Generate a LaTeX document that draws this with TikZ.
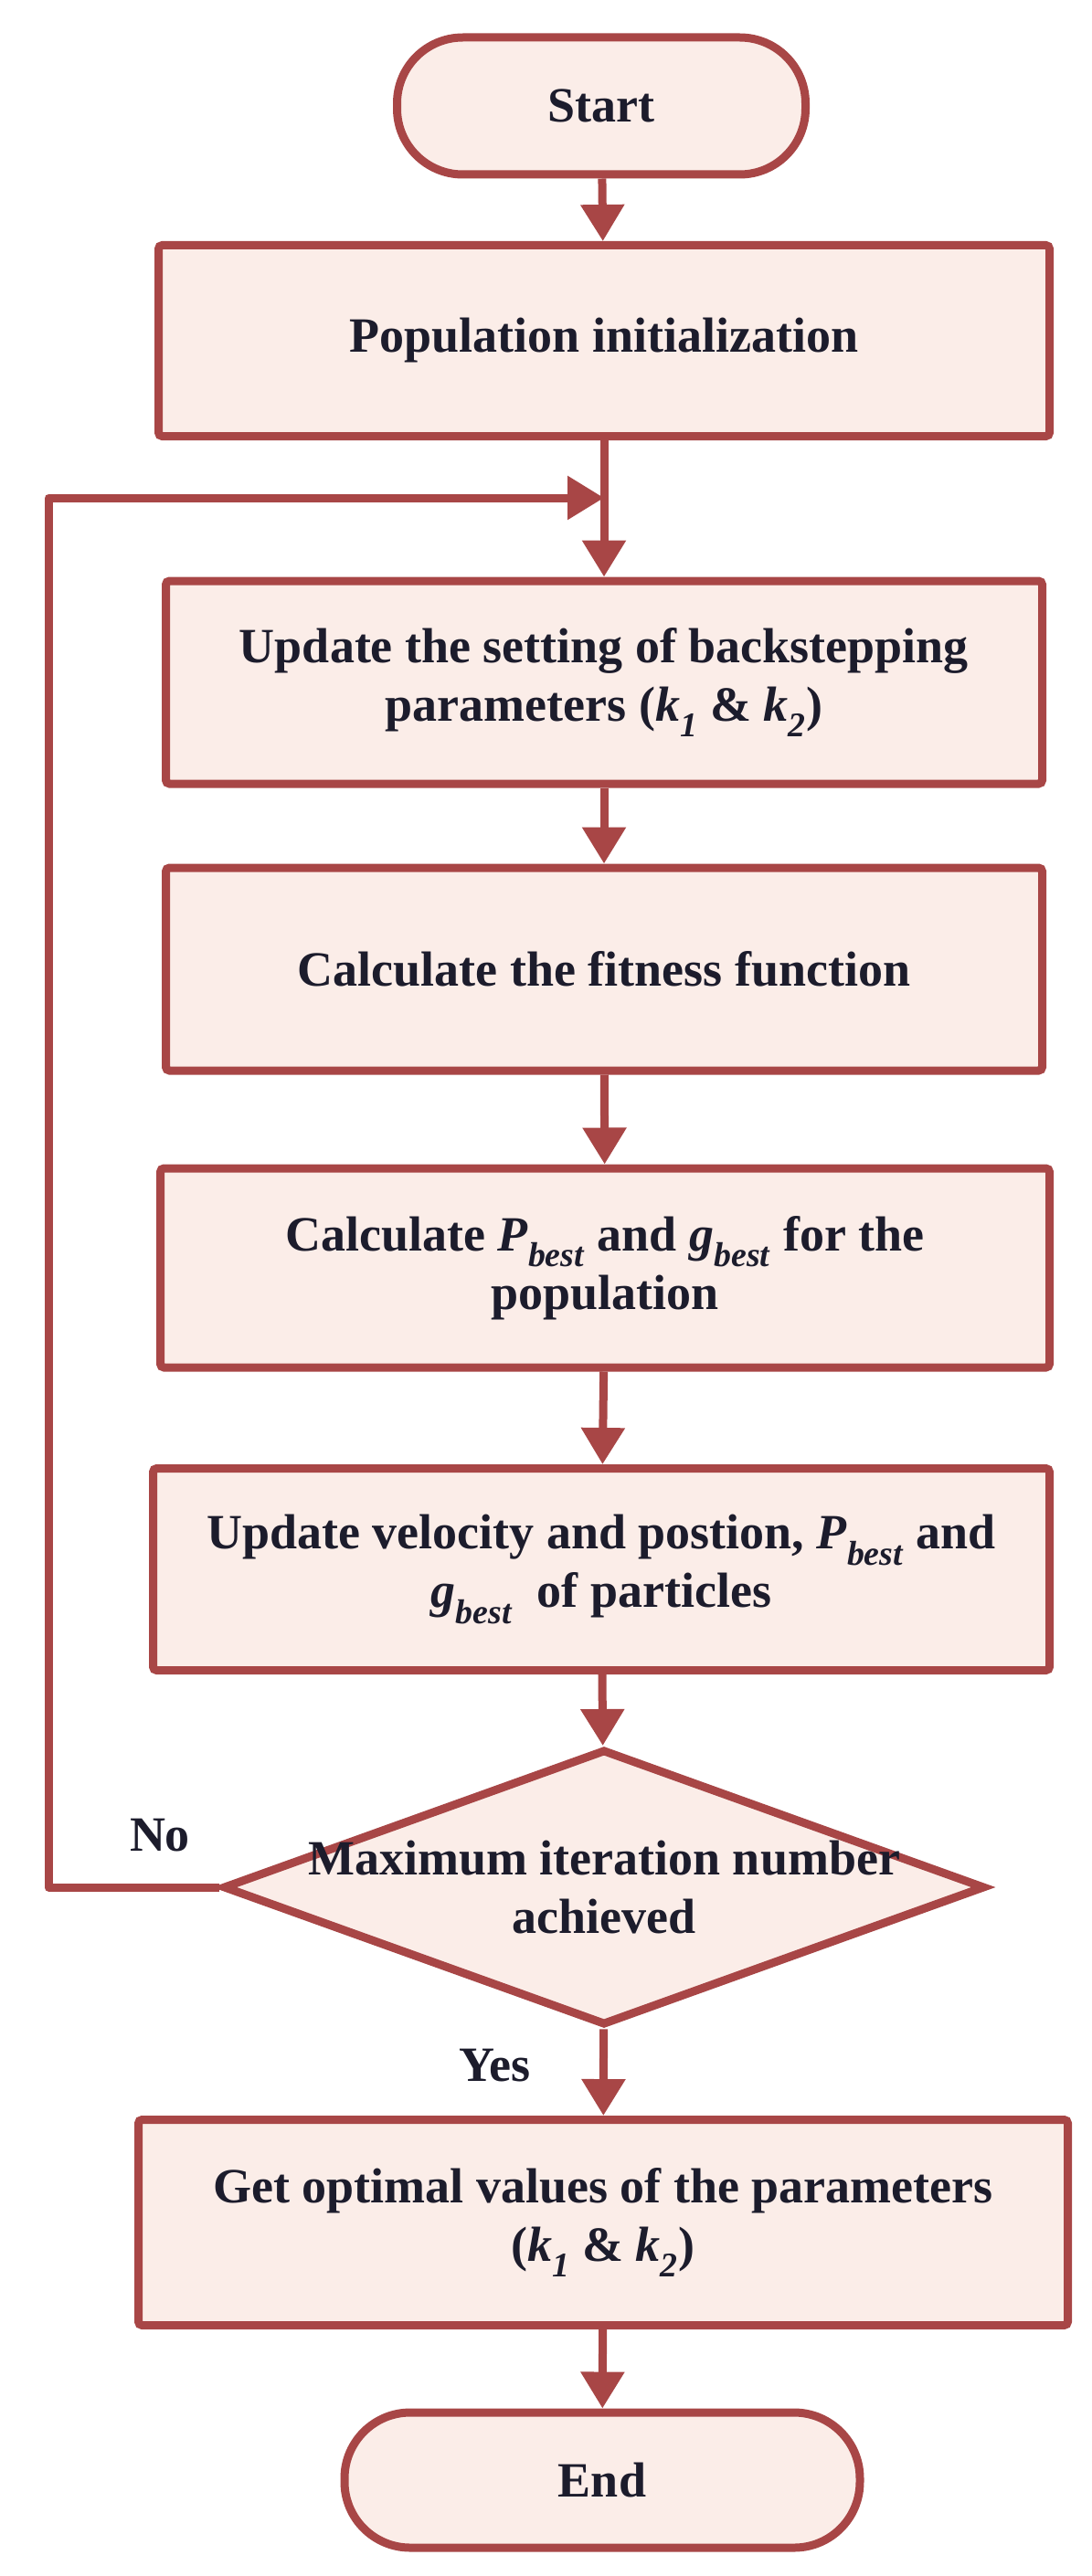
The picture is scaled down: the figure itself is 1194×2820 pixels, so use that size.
\documentclass[tikz,border=0pt]{standalone}
\usepackage{fontspec}
\setmainfont{Liberation Serif}
\usetikzlibrary{shapes.geometric,arrows.meta}
\definecolor{ln}{HTML}{A84646}
\definecolor{fl}{HTML}{FBEDE8}
\definecolor{tx}{HTML}{1C1C2C}
\begin{document}
\begin{tikzpicture}[x=1pt,y=-1pt,
 base/.style={draw=ln,fill=fl,line width=9pt,text=tx,font=\fontsize{54}{64}\selectfont\bfseries,align=center,inner sep=0pt},
 box/.style={base,rectangle,rounded corners=4pt},
 term/.style={base,rectangle,rounded corners=72pt},
 arr/.style={draw=ln,line width=9pt,-{Triangle[width=46pt,length=40pt]}},
 lbl/.style={text=tx,font=\fontsize{54}{64}\selectfont\bfseries}]
\useasboundingbox (0,0) rectangle (1194,2820);
\newcommand{\sbs}[2]{\textit{#1}\textsubscript{\textit{#2}}}
\node[term,minimum width=447,minimum height=150] (s) at (658,116) {Start};
\node[box,minimum width=975,minimum height=209] (p) at (661,373) {Population initialization};
\node[box,minimum width=959,minimum height=222] (u) at (661,747) {Update the setting of backstepping\\parameters (\sbs{k}{1} \& \sbs{k}{2})};
\node[box,minimum width=959,minimum height=222] (f) at (661,1061) {Calculate the fitness function};
\node[box,minimum width=973,minimum height=218] (c) at (662,1388) {Calculate \sbs{P}{best} and \sbs{g}{best} for the\\population};
\node[box,minimum width=981,minimum height=221] (v) at (658,1718) {Update velocity and postion, \sbs{P}{best} and\\\sbs{g}{best}~ of particles};
\node[base,diamond,minimum width=834,minimum height=302,aspect=2.76] (d) at (661,2066) {};
\node[lbl,align=center] (dt) at (661,2066) {Maximum iteration number\\achieved};
\node[box,minimum width=1017,minimum height=225] (g) at (660,2433) {Get optimal values of the parameters\\(\sbs{k}{1} \& \sbs{k}{2})};
\node[term,minimum width=564,minimum height=148] (e) at (659,2715) {End};
\node[lbl] (yes) at (541,2261) {Yes};
\node[lbl] (no) at (175,2009) {No};
\coordinate (j) at (661,545);
\coordinate (bl) at (53,2066);
\coordinate (tl) at (53,545);
\draw[arr] (s) -- (p);
\draw[arr] (p) -- (u);
\draw[arr] (u) -- (f);
\draw[arr] (f) -- (c);
\draw[arr] (c) -- (v);
\draw[arr] (v) -- (d);
\draw[arr] (d) -- (g);
\draw[arr] (g) -- (e);
\draw[arr,line join=round] (d.west) -- (bl) -- (tl) -- (j);
\end{tikzpicture}
\end{document}
